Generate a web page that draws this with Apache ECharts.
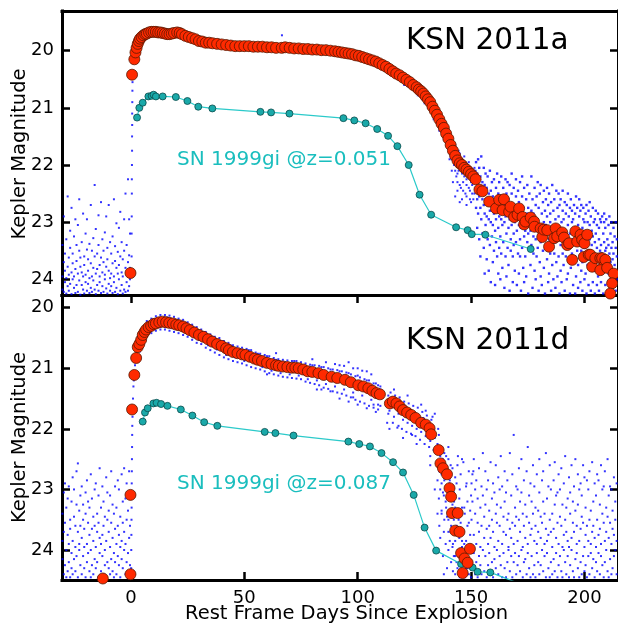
<!DOCTYPE html>
<html><head><meta charset="utf-8">
<script src="https://cdn.jsdelivr.net/npm/echarts@6/dist/echarts.min.js"></script>
<style>html,body{margin:0;padding:0;background:#fff}#c{width:618px;height:624px}</style>
</head><body><div id="c"></div>
<script>
// ---------- tick labels ----------
const xTicks = [0, 50, 100, 150, 200];
const yTicks = [20, 21, 22, 23, 24];

// ---------- KSN 2011a (top) binned light curve, red ----------
const ksn2011aRed = [[-0.2,23.89],[0.5,20.42],[1.5,20.15],[2,20.03],[2.5,19.95],[3,19.88],[3.5,19.83],[4,19.79],[4.7,19.76],[5.5,19.73],[6.3,19.71],[7,19.7],[8,19.68],[9,19.67],[10,19.67],[11,19.67],[12,19.68],[13,19.68],[14,19.69],[15,19.7],[16,19.71],[17,19.71],[18,19.7],[19,19.69],[20.4,19.68],[21.5,19.69],[22.5,19.71],[24,19.74],[25.5,19.76],[27,19.78],[28.5,19.8],[30,19.83],[31.5,19.84],[33,19.86],[34.5,19.86],[36,19.87],[38,19.88],[40,19.89],[42,19.9],[44,19.91],[46,19.92],[48,19.92],[50,19.92],[52,19.92],[54,19.93],[56,19.93],[58,19.93],[60,19.94],[62,19.94],[64,19.95],[66.5,19.95],[68,19.94],[70,19.95],[72,19.96],[74,19.96],[76,19.97],[78,19.97],[80,19.98],[82,19.98],[84,19.99],[86,19.99],[88,20.0],[90,20.01],[91.5,20.02],[93,20.03],[94.5,20.04],[96,20.05],[97.5,20.06],[99,20.08],[100.5,20.09],[102,20.11],[103.5,20.13],[105,20.15],[106.5,20.17],[108,20.19],[109.5,20.22],[111,20.25],[112.5,20.28],[114,20.32],[115.5,20.36],[117,20.4],[118.5,20.43],[120,20.47],[121.5,20.51],[123,20.55],[124.5,20.6],[126,20.64],[127,20.68],[128,20.71],[129,20.75],[130,20.8],[131,20.85],[132,20.9],[133,20.98],[134,21.05],[135,21.12],[136,21.2],[137,21.28],[138,21.35],[139,21.45],[140,21.54],[141,21.65],[142,21.75],[143,21.84],[144,21.92],[145,21.97],[146,22.0],[147,22.05],[148,22.08],[149,22.12],[150,22.16],[151,22.2],[152,22.25],[153.7,22.43],[155,22.46],[158,22.64],[161,22.76],[162.4,22.61],[163.9,22.79],[164.5,22.6],[166.8,22.82],[167.4,22.73],[169,22.91],[170.5,22.87],[171.2,22.76],[172.7,22.91],[173.4,23.04],[174,22.99],[176.3,22.92],[177.8,22.99],[178,23.08],[180.7,23.11],[181.4,23.26],[182,23.13],[183.6,23.14],[184.4,23.43],[186.6,23.28],[187.3,23.11],[188,23.25],[190.2,23.18],[191,23.27],[192.4,23.4],[193.2,23.37],[194.6,23.66],[196,23.16],[196.8,23.34],[198.3,23.22],[199,23.31],[199.7,23.61],[200,23.37],[201.2,23.22],[201.9,23.57],[202.6,23.57],[203.4,23.78],[204.8,23.63],[207,23.63],[207.8,23.63],[208.5,23.78],[209.2,23.66],[207,23.84],[210,23.8],[212.9,23.9],[212.2,24.07],[211.4,24.25]];

// ---------- SN 1999gi template at z=0.051 (top) ----------
const sn1999giTop = [[2.7,21.17],[3.7,21.0],[5.2,20.91],[7.7,20.8],[9.1,20.79],[10,20.77],[11,20.8],[14,20.8],[19.8,20.81],[24.9,20.88],[29.7,20.98],[35.9,21.01],[57.1,21.07],[61.8,21.08],[69.9,21.1],[93.7,21.18],[98.5,21.22],[103.5,21.27],[108.6,21.37],[113.4,21.49],[117.5,21.67],[122.5,22.0],[127.3,22.52],[132.4,22.87],[143.4,23.09],[148.5,23.14],[150.3,23.21],[156.3,23.22],[176.3,23.47]];

// ---------- KSN 2011a raw photometry, blue ([day, [mags]] columns and [day, mag] pairs) ----------
const topBluePre = [[-30.2,[23.95,24.18,23.4]],[-29.6,[24.22,23.7,22.9]],[-29.1,[23.85,24.05,23.55]],[-28.5,[24.25,23.3,23.98]],[-27.9,[22.55,23.78,24.12]],[-27.4,[23.62,24.2,23.92]],[-26.8,[24.08,23.45,23.15]],[-26.2,[23.88,24.26,22.75]],[-25.7,[23.55,24.0,23.72]],[-25.1,[24.15,23.25,23.95]],[-24.5,[22.95,23.82,24.24]],[-24.0,[23.68,24.1,23.4]],[-23.4,[24.22,23.9,23.05]],[-22.8,[23.5,24.02,22.6]],[-22.3,[23.78,24.27,23.62]],[-21.7,[24.1,23.35,23.88]],[-21.1,[22.85,23.95,24.18]],[-20.6,[23.6,24.25,23.75]],[-20.0,[24.05,23.2,23.92]],[-19.4,[23.48,24.2,22.95]],[-18.9,[23.85,24.08,23.65]],[-18.3,[24.24,23.38,23.98]],[-17.7,[22.7,23.72,24.15]],[-17.2,[23.95,24.22,23.5]],[-16.6,[23.28,24.02,23.8]],[-16.0,[24.18,22.35,23.6]],[-15.5,[23.9,24.26,23.12]],[-14.9,[23.55,24.1,23.82]],[-14.3,[24.2,23.4,22.88]],[-13.8,[23.75,24.05,23.95]],[-13.2,[22.65,23.62,24.24]],[-12.6,[24.12,23.88,23.3]],[-12.1,[23.5,24.22,23.7]],[-11.5,[24.0,23.18,23.92]],[-10.9,[22.9,23.78,24.16]],[-10.4,[23.65,24.25,23.45]],[-9.8,[24.08,23.85,22.7]],[-9.2,[23.35,24.2,23.98]],[-8.7,[23.9,24.12,23.55]],[-8.1,[24.24,23.25,23.72]],[-7.5,[22.6,23.95,24.05]],[-7.0,[23.68,24.22,23.42]],[-6.4,[24.15,23.8,23.02]],[-5.8,[23.52,24.26,23.9]],[-5.3,[23.1,24.0,23.75]],[-4.7,[24.2,22.82,23.6]],[-4.1,[23.88,24.1,23.35]],[-3.6,[24.25,23.65,23.95]],[-3.0,[22.95,23.5,24.18]],[-2.4,[23.8,24.22,22.5]],[-1.9,[24.05,23.4,23.92]],[-1.3,[22.25,23.7,24.2]],[-0.8,[23.58,24.12,22.95]],[-0.4,[23.2,24.0,23.8]]];
const topBlueRise = [[0.2,23.9],[0.3,23.6],[0.3,23.2],[0.35,22.9],[0.4,22.5],[0.4,22.25],[0.45,22.0],[0.5,21.75],[0.5,21.5],[0.55,21.3],[0.55,21.1],[0.6,20.9],[0.65,20.7],[0.7,20.55]];
const topBlueBand = [[25,19.72],[30,19.8],[38,19.86],[45,19.88],[52,19.96],[56,19.97],[60,19.9],[66.6,19.73],[64,19.98],[68,19.92],[75,19.93],[80,20.0],[85,19.95],[88,20.03],[92,19.99],[95,20.08],[98,20.03],[101,20.14],[104,20.1],[107,20.23],[110,20.18],[112,20.3],[115,20.28],[117,20.45],[119,20.38],[121,20.55],[123,20.48],[125,20.7],[127,20.58],[128.5,20.85],[130,20.7],[131,21.0],[132.5,20.85],[133.5,21.2],[135,21.0],[136,21.4],[137,21.15],[138,21.55],[139,21.3],[140,21.7],[140.5,21.45],[141.5,21.9],[142,21.6],[143,22.1],[143.5,21.7],[144,22.3],[145,21.8],[145.5,22.4],[146,22.15],[147,21.85],[147.5,22.5],[148,22.25],[149,21.95],[149.5,22.45],[150,22.3],[151,22.6],[151.5,22.05],[152,22.4],[143,22.55],[145,22.65],[148,22.7],[144.5,22.1],[146.5,22.3],[149,22.2],[150.5,22.5],[141,21.8],[139.5,21.6],[120.5,20.6],[122,20.62],[124,20.52],[126.5,20.78],[128,20.62],[129.5,20.92],[131.5,20.78],[133,21.1],[134.5,20.95],[135.5,21.3],[136.5,21.1],[137.5,21.45],[138.5,21.25],[139.5,21.65],[140,21.4],[141,21.85],[141.5,21.55],[142.5,22.0],[143,21.65],[144,22.15],[144.5,21.75],[145,22.35],[146,21.9],[146.5,22.45],[147,22.2],[148,22.55],[148.5,22.0],[149.5,22.6],[150,22.05],[150.5,22.35],[151.5,22.5],[152,22.1],[142,22.3],[144,22.45],[146,22.6],[148,22.35],[150,22.65],[145.5,22.0],[147.5,21.95],[149,22.4],[151,22.25],[143.5,22.2],[141.5,22.1],[140.5,21.9]];
const topBluePost = [[152.2,[21.95,22.4,22.75]],[152.7,[22.6,22.15,23.1]],[153.1,[22.3,22.85,21.9]],[153.6,[22.55,22.05,23.3]],[154.1,[22.2,22.75,23.6]],[154.5,[22.95,22.45,21.85]],[155.0,[22.3,23.2,22.6]],[155.6,[22.05,22.7,23.45]],[156.0,[22.85,22.35,23.9]],[156.4,[22.6,23.05,22.15]],[156.9,[22.4,22.9,23.65]],[157.3,[23.3,22.2,22.7]],[157.8,[22.5,22.95,23.85]],[158.3,[22.1,22.8,23.4]],[158.7,[23.0,22.45,24.05]],[159.2,[22.7,23.25,22.3]],[159.6,[22.55,23.05,23.7]],[160.1,[22.25,22.85,23.5]],[160.6,[23.15,22.6,24.1]],[161.0,[22.4,22.95,23.35]],[161.5,[22.75,23.6,22.15]],[162.0,[22.5,23.1,23.9]],[162.4,[22.9,22.3,23.45]],[162.9,[22.65,23.25,24.0]],[163.3,[22.2,22.95,23.55]],[163.8,[23.05,22.55,23.8]],[164.2,[22.4,23.35,22.85]],[164.7,[22.7,23.0,24.15]],[165.2,[22.25,22.9,23.6]],[165.6,[23.2,22.5,23.95]],[166.1,[22.75,23.45,22.3]],[166.5,[22.6,23.1,23.75]],[167.0,[22.35,22.95,24.2]],[167.5,[23.3,22.7,23.5]],[167.9,[22.5,23.05,22.15]],[168.4,[22.85,23.6,24.05]],[168.8,[22.4,23.2,23.4]],[169.3,[22.7,23.0,23.85]],[169.8,[23.35,22.55,22.25]],[170.2,[22.95,23.15,24.1]],[170.7,[22.45,23.55,22.8]],[171.1,[23.05,22.65,23.9]],[171.6,[22.3,23.3,23.6]],[172.0,[22.8,23.1,24.2]],[172.5,[22.55,23.45,22.2]],[173.0,[23.0,22.75,23.8]],[173.4,[22.4,23.25,24.05]],[173.9,[22.9,23.6,23.15]],[174.3,[22.6,23.05,23.95]],[174.8,[23.35,22.35,22.85]],[175.2,[22.75,23.2,24.25]],[175.7,[22.5,23.5,23.0]],[176.2,[22.95,23.15,23.75]],[176.6,[22.2,22.8,23.4]],[177.1,[23.1,22.6,24.15]],[177.5,[22.85,23.55,23.25]],[178.0,[22.4,23.0,23.85]],[178.5,[23.3,22.7,24.0]],[178.9,[22.55,23.15,23.6]],[179.4,[22.95,23.45,22.3]],[179.8,[22.75,23.25,24.2]],[180.3,[23.05,22.5,23.7]],[180.7,[22.35,23.35,23.95]],[181.2,[22.85,23.1,24.1]],[181.7,[23.5,22.65,23.2]],[182.1,[22.45,23.0,23.8]],[182.6,[23.25,22.8,24.25]],[183.0,[22.6,23.4,23.05]],[183.5,[22.9,23.65,22.4]],[184.0,[23.15,22.7,24.05]],[184.4,[22.5,23.3,23.9]],[184.9,[23.0,22.85,23.55]],[185.3,[22.65,23.45,24.2]],[185.8,[23.2,22.35,23.75]],[186.3,[22.8,23.1,24.0]],[186.7,[23.55,22.6,23.3]],[187.2,[22.95,23.35,24.15]],[187.6,[22.45,23.05,23.7]],[188.1,[23.25,22.75,23.95]],[188.6,[22.9,23.6,22.5]],[189.0,[23.1,22.7,24.25]],[189.5,[22.6,23.4,23.85]],[189.9,[23.0,23.2,24.05]],[190.4,[22.8,23.55,22.45]],[190.8,[23.3,22.95,23.75]],[191.3,[22.65,23.15,24.2]],[191.8,[23.45,22.85,23.6]],[192.2,[22.7,23.25,24.0]],[192.7,[23.05,22.5,23.9]],[193.1,[22.9,23.65,23.35]],[193.6,[23.2,22.75,24.25]],[194.0,[22.6,23.4,23.8]],[194.5,[23.55,23.0,22.8]],[195.0,[22.95,23.3,24.1]],[195.4,[23.15,22.7,23.7]],[195.9,[22.85,23.6,24.25]],[196.3,[23.4,22.55,23.95]],[196.8,[22.75,23.2,23.5]],[197.2,[23.05,23.75,24.15]],[197.7,[22.9,23.35,22.6]],[198.2,[23.25,22.8,24.05]],[198.6,[22.7,23.5,23.85]],[199.1,[23.1,23.7,24.2]],[199.5,[22.95,23.3,22.75]],[200.0,[23.45,23.0,24.0]],[200.5,[22.85,23.6,23.9]],[200.9,[23.2,22.7,24.25]],[201.4,[23.0,23.4,23.75]],[201.8,[22.8,23.65,24.1]],[202.3,[23.3,23.05,22.65]],[202.8,[22.9,23.5,24.2]],[203.2,[23.15,23.8,23.4]],[203.7,[22.75,23.25,24.05]],[204.1,[23.55,23.0,23.85]],[204.6,[22.95,23.35,24.25]],[205.0,[23.2,23.7,22.8]],[205.5,[23.05,23.45,24.1]],[206.0,[22.85,23.6,23.95]],[206.4,[23.3,23.1,24.2]],[206.9,[22.95,23.75,23.5]],[207.3,[23.4,23.0,24.05]],[207.8,[22.9,23.55,23.85]],[208.3,[23.2,23.65,24.25]],[208.7,[23.0,23.35,22.85]],[209.2,[23.5,23.1,24.1]],[209.6,[22.95,23.8,23.45]],[210.1,[23.3,23.6,24.2]],[210.6,[23.05,23.4,23.9]],[211.0,[23.55,22.9,24.05]],[211.5,[23.2,23.7,24.25]],[211.9,[23.0,23.45,23.85]],[212.4,[23.35,23.65,24.15]],[212.8,[23.1,23.9,23.55]],[213.3,[23.25,23.75,24.1]],[213.8,[23.45,23.0,24.2]],[214.3,[23.6,23.3,24.0]]];

// ---------- KSN 2011d (bottom) binned light curve, red ----------
const ksn2011dRed = [[-12.4,24.47],[-0.2,24.4],[-0.2,23.09],[0.5,21.68],[1.5,21.11],[2.3,20.83],[3,20.65],[3.7,20.6],[4.5,20.53],[5.2,20.45],[6,20.4],[6.7,20.36],[7.8,20.32],[8.9,20.3],[10,20.27],[11,20.26],[12.5,20.24],[14,20.23],[15.5,20.24],[16.9,20.25],[18.5,20.26],[20,20.28],[21.3,20.29],[23,20.31],[24.5,20.34],[26,20.37],[28,20.41],[30,20.45],[32,20.48],[34,20.52],[35.9,20.56],[38,20.6],[40,20.63],[42,20.67],[43.2,20.7],[45,20.73],[47,20.75],[49,20.77],[50.5,20.78],[52.5,20.81],[54.5,20.84],[56,20.86],[57.8,20.88],[60,20.91],[62,20.93],[64,20.95],[65.2,20.96],[67,20.97],[69,20.98],[71,20.99],[72.5,20.99],[74,21.0],[76,21.02],[78,21.05],[80,21.06],[82.7,21.08],[85,21.11],[88.5,21.14],[91,21.16],[94.4,21.19],[97,21.23],[100.3,21.28],[102.5,21.3],[104.7,21.33],[106.5,21.37],[108.3,21.41],[109.8,21.43],[114.2,21.58],[115.5,21.55],[117.1,21.58],[118.5,21.63],[120,21.69],[121.8,21.73],[123.6,21.77],[125.5,21.82],[128,21.9],[130,21.93],[131.7,21.99],[132.4,22.09],[135.7,22.35],[136.5,22.57],[137.6,22.65],[139.4,22.75],[140.5,22.98],[141.2,23.12],[141.6,23.39],[144.1,23.39],[143,23.68],[144.9,23.7],[145.6,24.05],[149.5,23.98],[147.1,24.14],[148.5,24.21],[146.3,24.38]];

// ---------- SN 1999gi template at z=0.087 (bottom) ----------
const sn1999giBot = [[5.2,21.88],[6.2,21.73],[7.4,21.66],[9.9,21.58],[11.3,21.57],[13.3,21.59],[16.1,21.62],[22,21.68],[27.1,21.78],[32.3,21.89],[38.1,21.95],[59,22.05],[63.7,22.07],[71.7,22.11],[95.9,22.21],[100.7,22.25],[105.4,22.29],[110.5,22.4],[115.6,22.55],[120,22.72],[124.7,23.09],[129.5,23.63],[134.6,24.01],[145.6,24.23],[150.7,24.29],[152.9,24.36],[158.5,24.37],[176,24.62]];

// ---------- KSN 2011d raw photometry, blue ----------
const botBluePre = [[-30.2,[23.4,24.15,23.85]],[-29.6,[24.4,23.05,23.7]],[-29.1,[23.55,24.25,22.9]],[-28.5,[24.0,23.3,24.45]],[-27.9,[23.75,24.35,23.15]],[-27.4,[22.95,23.9,24.2]],[-26.8,[24.45,23.5,23.65]],[-26.2,[23.2,24.05,24.3]],[-25.7,[23.85,22.8,24.4]],[-25.1,[24.15,23.45,23.0]],[-24.5,[23.6,24.35,23.95]],[-24.0,[22.7,23.25,24.1]],[-23.4,[24.45,23.7,22.57]],[-22.8,[23.35,24.0,23.9]],[-22.3,[24.25,23.1,23.6]],[-21.7,[23.8,24.4,22.95]],[-21.1,[23.5,24.1,23.25]],[-20.6,[24.3,23.65,23.95]],[-20.0,[23.05,24.45,23.4]],[-19.4,[23.9,22.85,24.2]],[-18.9,[24.05,23.55,23.2]],[-18.3,[23.3,24.35,23.75]],[-17.7,[22.75,24.0,24.45]],[-17.2,[23.65,23.15,24.25]],[-16.6,[24.4,23.85,23.45]],[-16.0,[23.0,24.15,23.6]],[-15.5,[23.95,22.9,24.3]],[-14.9,[24.2,23.4,23.7]],[-14.3,[23.55,24.45,23.1]],[-13.8,[22.65,23.8,24.05]],[-13.2,[24.35,23.3,23.9]],[-12.6,[23.75,24.1,22.95]],[-12.1,[23.2,24.4,23.6]],[-11.5,[24.0,23.45,24.25]],[-10.9,[22.8,23.85,24.45]],[-10.4,[23.5,24.2,23.05]],[-9.8,[24.3,23.7,23.35]],[-9.2,[23.1,23.95,24.4]],[-8.7,[24.15,22.7,23.55]],[-8.1,[23.8,24.35,23.25]],[-7.5,[23.4,24.05,24.45]],[-7.0,[22.95,23.65,24.2]],[-6.4,[24.4,23.3,23.9]],[-5.8,[23.6,24.1,22.85]],[-5.3,[24.25,23.0,23.75]],[-4.7,[23.45,24.45,23.95]],[-4.1,[22.75,23.85,24.15]],[-3.6,[24.3,23.55,23.2]],[-3.0,[23.7,24.0,22.65]],[-2.4,[23.15,24.4,23.9]],[-1.9,[24.2,23.5,22.9]],[-1.3,[23.35,24.05,24.35]],[-0.8,[22.7,23.8,24.45]],[-0.4,[23.6,24.25,23.05]]];
const botBlueRise = [[0.1,24.3],[0.15,24.0],[0.2,23.75],[0.25,23.5],[0.3,23.3],[0.35,22.9],[0.4,22.7],[0.45,22.5],[0.5,22.3],[0.55,22.1],[0.6,21.95],[0.7,21.8],[0.9,21.5],[1.1,21.3],[1.3,21.2],[1.8,20.95],[2.6,20.75]];
const botBlueBand = [[5,20.38],[6,20.45],[8,20.25],[10,20.32],[12,20.17],[14,20.3],[16,20.16],[18,20.33],[20,20.2],[22,20.36],[24,20.26],[26,20.45],[28,20.33],[30,20.53],[32,20.4],[34,20.62],[36,20.48],[38,20.69],[40,20.56],[42,20.78],[44,20.62],[46,20.82],[48,20.68],[50,20.88],[52,20.7],[54,20.9],[56,20.76],[58,20.98],[60,20.8],[62,21.04],[64,20.86],[66,21.08],[68,20.9],[70,21.1],[72,20.88],[74,21.12],[76,20.95],[78,21.18],[80,20.95],[82,21.2],[84,20.98],[86,21.26],[88,21.02],[90,21.3],[92,21.05],[94,21.35],[96,21.08],[98,21.4],[100,21.12],[102,21.45],[104,21.2],[106,21.52],[108,21.25],[109,21.6],[110,21.35],[64,20.75],[80,20.85],[92,20.95],[96,20.9],[100,21.0],[104,21.05],[60,21.1],[84,21.35],[88,21.38],[107,21.6],[98,21.48],
  [3,20.5],[4,20.72],[7,20.22],[7,20.45],[9,20.18],[9,20.42],[11,20.14],[11,20.38],[13,20.12],[13,20.36],[15,20.12],[15,20.36],[17,20.13],[17,20.38],[19,20.15],[19,20.4],[21,20.18],[21,20.42],[23,20.2],[23,20.45],[25,20.24],[25,20.48],[27,20.28],[27,20.53],[29,20.32],[29,20.58],[31,20.36],[31,20.6],[33,20.4],[33,20.66],[35,20.44],[35,20.7],[37,20.48],[37,20.74],[39,20.5],[39,20.78],[41,20.55],[41,20.82],[43,20.58],[43,20.85],[45,20.62],[45,20.88],[47,20.64],[47,20.9],[49,20.66],[49,20.92],[51,20.68],[51,20.95],[53,20.7],[53,20.98],[55,20.74],[55,21.0],[57,20.76],[57,21.02],[59,20.78],[59,21.05],[61,20.8],[61,21.08],[63,20.83],[63,21.1],[65,20.85],[65,21.12],[67,20.86],[67,21.14],[69,20.87],[69,21.15],[71,20.88],[71,21.16],[73,20.88],[73,21.17],[75,20.9],[75,21.18],[77,20.92],[77,21.22],[79,20.94],[79,21.24],[81,20.95],[81,21.26],[83,20.96],[83,21.28],[85,20.98],[85,21.32],[87,21.0],[87,21.34],[89,21.02],[89,21.38],[91,21.03],[91,21.4],[93,21.05],[93,21.42],[95,21.07],[95,21.45],[97,21.1],[97,21.48],[99,21.13],[99,21.52],[101,21.15],[101,21.55],[103,21.18],[103,21.58],[105,21.2],[105,21.62],[107,21.25],[107,21.65],[109,21.28],[109,21.68],[110,21.3],[110,21.62],[86,20.9],[90,20.93],[94,20.96],[98,21.0],[102,21.04],[106,21.1],[82,21.35],[92,21.5],[96,21.55],[100,21.6],[104,21.66],[108,21.72],
  [113.5,21.45],[114,21.7],[115,21.5],[116,21.8],[117,21.52],[118,21.75],[119,21.6],[120,21.85],[121,21.62],[122,21.9],[123,21.68],[124,21.95],[125,21.72],[126,22.0],[127,21.78],[128,22.05],[129,21.82],[130,22.12],[131,21.88],[132,22.2],[133,21.8],[134,22.15],[113,21.9],[118,21.95],[124,22.1],[130,21.7],[134,21.75],[113.5,21.75],[114.5,21.4],[115.5,21.9],[116.5,21.45],[117.5,21.98],[118.5,21.48],[119.5,22.0],[120.5,21.55],[121.5,22.05],[122.5,21.58],[123.5,22.08],[124.5,21.62],[125.5,22.12],[126.5,21.65],[127.5,22.18],[128.5,21.72],[129.5,22.25],[130.5,21.78],[131.5,22.3],[132.5,21.85],[133.5,22.35],[114,22.0],[120,22.15],[126,22.25],[132,22.45],[116,21.35],[122,21.45],[128,21.6],
  [135,22.4],[135.5,22.0],[136,22.7],[136.5,22.3],[137,22.9],[137.5,22.5],[138,23.1],[138.5,22.6],[139,23.3],[139.5,22.8],[140,23.5],[140.5,22.9],[141,23.7],[141.5,23.05],[142,23.9],[142.5,23.2],[143,24.1],[143.5,23.4],[144,24.3],[144.5,23.5],[145,24.45],[145.5,23.7],[146,23.85],[146.5,24.2],[147,23.9],[147.5,24.4],[148,24.0],[148.5,24.3],[149,24.15],[150,24.45],[137,23.4],[139,22.45],[141,22.6],[143,22.8],[145,23.0],[147,23.3],[149,23.55],[138,23.7],[140,24.0],[142,24.35],[136,23.6],[138,24.4],[140,22.3],[144,22.6],[146,22.5],[148,22.9],[150,23.1],[151,22.7],[134,23.0],[132,22.6]];
const botBluePost = [[135.2,[22.25,22.85,23.4]],[135.8,[22.6,23.15,22.1]],[136.4,[22.45,23.0,23.8]],[137.0,[22.75,23.35,22.3]],[137.6,[23.05,22.55,24.1]],[138.2,[22.85,23.5,22.4]],[138.8,[23.2,22.7,23.9]],[139.4,[23.45,22.95,24.3]],[140.0,[23.1,23.7,22.5]],[140.6,[23.35,23.85,22.85]],[141.2,[23.6,23.0,24.2]],[141.8,[23.25,23.95,22.65]],[142.4,[23.5,24.1,23.05]],[143.0,[23.85,23.3,24.4]],[143.6,[23.6,24.2,22.9]],[144.2,[24.0,23.45,22.45]],[144.8,[23.8,24.35,23.15]],[145.4,[24.1,23.55,22.75]],[146.0,[23.95,24.45,23.3]],[146.6,[24.2,23.7,22.55]],[147.2,[24.0,23.4,24.45]],[147.8,[23.85,24.3,22.95]],[148.4,[24.15,23.6,23.2]],[149.0,[23.95,24.4,22.7]],[149.6,[24.25,23.35,23.75]],[150.2,[24.05,22.9,23.5]],
  [150.6,[23.2,24.3,22.75]],[151.2,[23.75,22.5,24.05]],[151.8,[24.4,23.4,23.0]],[152.3,[22.85,23.9,24.2]],[152.9,[23.55,24.45,23.15]],[153.5,[24.1,22.65,23.7]],[154.1,[23.3,24.25,23.95]],[154.6,[22.95,23.6,24.4]],[155.2,[24.0,23.1,22.4]],[155.8,[23.45,24.35,23.8]],[156.3,[22.7,23.25,24.1]],[156.9,[24.45,23.65,23.0]],[157.5,[23.9,22.85,24.25]],[158.0,[23.35,24.05,23.6]],[158.6,[22.55,23.8,24.4]],[159.2,[24.2,23.15,23.5]],[159.7,[23.7,24.45,22.9]],[160.3,[23.05,23.95,24.15]],[160.9,[24.3,23.4,22.6]],[161.4,[23.55,24.0,23.25]],[162.0,[22.8,24.4,23.85]],[162.6,[24.1,23.6,23.0]],[163.1,[23.3,24.25,22.45]],[163.7,[23.9,22.95,24.45]],[164.3,[24.05,23.45,23.7]],[164.8,[22.7,23.2,24.3]],[165.4,[23.75,24.45,23.05]],[166.0,[24.2,22.85,23.5]],[166.5,[23.4,24.0,23.95]],[167.1,[22.4,23.65,24.35]],[167.7,[24.1,23.1,23.8]],[168.2,[23.55,24.45,22.75]],[168.8,[22.1,23.9,24.2]],[169.4,[23.3,24.05,23.6]],[169.9,[24.4,22.95,23.45]],[170.5,[23.85,24.25,23.0]],[171.1,[22.65,23.5,24.1]],[171.6,[24.35,23.7,23.2]],[172.2,[23.05,24.0,22.5]],[172.8,[23.95,24.45,23.4]],[173.3,[22.85,23.6,24.2]],[173.9,[24.15,23.25,23.8]],[174.5,[23.45,24.4,22.7]],[175.0,[22.3,23.9,24.05]],[175.6,[24.3,23.55,23.1]],[176.2,[23.75,22.9,24.45]],[176.7,[23.2,24.1,23.65]],[177.3,[24.4,23.4,22.6]],[177.9,[22.95,23.85,24.25]],[178.4,[23.6,24.45,23.3]],[179.0,[24.05,22.75,23.9]],[179.6,[23.35,24.2,23.7]],[180.1,[22.5,23.05,24.4]],[180.7,[24.25,23.8,23.45]],[181.3,[23.55,24.0,22.85]],[181.8,[22.7,24.35,23.2]],[182.4,[23.9,23.4,24.1]],[183.0,[24.45,22.4,23.65]],[183.5,[23.15,24.05,23.85]],[184.1,[23.75,24.3,22.95]],[184.7,[22.6,23.5,24.45]],[185.2,[24.2,23.0,23.7]],[185.8,[23.4,24.4,23.95]],[186.4,[22.85,23.65,24.15]],[186.9,[24.35,23.25,22.55]],[187.5,[23.8,24.05,23.1]],[188.1,[23.05,24.45,23.55]],[188.6,[22.75,23.9,24.25]],[189.2,[24.1,23.45,23.0]],[189.8,[23.6,24.35,22.65]],[190.3,[23.25,23.95,24.45]],[190.9,[24.0,22.9,23.75]],[191.5,[22.45,23.5,24.2]],[192.0,[24.4,23.7,23.3]],[192.6,[23.15,24.1,23.85]],[193.2,[23.95,22.8,24.45]],[193.7,[23.4,24.25,23.05]],[194.3,[22.6,23.8,24.0]],[194.9,[24.35,23.55,23.2]],[195.4,[23.7,24.45,22.95]],[196.0,[22.5,23.35,24.15]],[196.6,[24.05,23.9,23.6]],[197.1,[23.25,24.3,22.75]],[197.7,[23.85,23.0,24.45]],[198.3,[22.9,23.65,24.2]],[198.8,[24.4,23.45,23.1]],[199.4,[23.55,24.1,22.6]],[200.0,[22.8,23.95,24.35]],[200.5,[24.25,23.3,23.75]],[201.1,[23.6,24.45,22.85]],[201.7,[23.0,23.85,24.1]],[202.2,[24.4,22.7,23.5]],[202.8,[23.35,24.05,23.9]],[203.4,[22.55,23.7,24.3]],[203.9,[24.15,23.2,23.6]],[204.5,[23.8,24.45,22.9]],[205.1,[23.1,23.95,24.2]],[205.6,[24.35,23.5,22.75]],[206.2,[22.85,23.75,24.05]],[206.8,[23.65,24.4,23.25]],[207.3,[24.1,22.6,23.9]],[207.9,[23.4,24.25,23.0]],[208.5,[22.95,23.55,24.45]],[209.0,[24.2,23.85,22.7]],[209.6,[23.7,24.0,23.3]],[210.2,[22.5,23.45,24.35]],[210.7,[24.45,23.1,23.8]],[211.3,[23.55,24.15,22.95]],[211.9,[23.0,23.9,24.4]],[212.4,[24.3,23.35,23.65]],[213.0,[22.8,23.75,24.1]],[213.6,[24.0,23.2,23.5]],[214.2,[23.85,24.4,22.9]]];

// ---------- build ----------
function flatCols(c) { const o = []; c.forEach(([d, ms]) => ms.forEach(m => o.push([d, m]))); return o; }
const topBlue = flatCols(topBluePre).concat(topBlueRise, topBlueBand);
const topBlueCloud = flatCols(topBluePost);
const botBlue = flatCols(botBluePre).concat(botBlueRise, botBlueBand, flatCols(botBluePost));

const FONT = 'DejaVu Sans';
const spine = { show: true, onZero: false, lineStyle: { color: '#000', width: 3, cap: 'square' } };
const tickOn = (vals) => ({ show: true, inside: true, length: 8, customValues: vals, lineStyle: { width: 2.5, color: '#000' } });
const tickOff = { show: false };
const xBase = { type: 'value', min: -30.4, max: 214.8, splitLine: { show: false }, axisLine: spine };
const yTop = { type: 'value', inverse: true, min: 19.305, max: 24.275, gridIndex: 0, splitLine: { show: false }, axisLine: spine };
const yBot = { type: 'value', inverse: true, min: 19.79, max: 24.495, gridIndex: 1, splitLine: { show: false }, axisLine: spine };
const yLabel = { customValues: yTicks, fontSize: 18, fontFamily: FONT, color: '#000', margin: 8 };
const noLabel = { show: false };

function blue(data, xi, yi, size) {
  return { type: 'scatter', xAxisIndex: xi, yAxisIndex: yi, data, symbol: 'rect', symbolSize: size, progressive: 0,
    itemStyle: { color: '#0000ff' }, silent: true, z: 2 };
}
function teal(data, xi, yi) {
  return { type: 'line', xAxisIndex: xi, yAxisIndex: yi, data, symbol: 'circle', symbolSize: 7, showSymbol: true,
    lineStyle: { color: '#2ccaca', width: 1.2 }, itemStyle: { color: '#1aa9a9', borderColor: '#0a4a4a', borderWidth: 0.8 },
    silent: true, z: 3 };
}
function red(data, xi, yi) {
  return { type: 'scatter', xAxisIndex: xi, yAxisIndex: yi, data, symbol: 'circle', symbolSize: 11, progressive: 0,
    itemStyle: { color: '#ff2a00', borderColor: '#5a1800', borderWidth: 0.8, opacity: 1 }, silent: true, z: 4 };
}

const chart = echarts.init(document.getElementById('c'), null, { renderer: 'canvas' });
chart.setOption({
  animation: false,
  backgroundColor: '#fff',
  grid: [
    { left: 62, top: 11, width: 559, height: 284, show: false },
    { left: 62, top: 295, width: 559, height: 285, show: false }
  ],
  xAxis: [
    Object.assign({}, xBase, { gridIndex: 0, position: 'bottom', axisTick: tickOff, axisLabel: noLabel }),
    Object.assign({}, xBase, { gridIndex: 0, position: 'top', axisTick: tickOff, axisLabel: noLabel }),
    Object.assign({}, xBase, { gridIndex: 1, position: 'bottom', axisTick: tickOn(xTicks),
      axisLabel: { customValues: xTicks, fontSize: 18, fontFamily: FONT, color: '#000', margin: 9 } }),
    Object.assign({}, xBase, { gridIndex: 1, position: 'top', axisTick: tickOn(xTicks), axisLabel: { show: false, customValues: xTicks } })
  ],
  yAxis: [
    Object.assign({}, yTop, { position: 'left', axisTick: tickOn(yTicks), axisLabel: yLabel }),
    Object.assign({}, yTop, { position: 'right', axisTick: tickOn(yTicks), axisLabel: { show: false, customValues: yTicks } }),
    Object.assign({}, yBot, { position: 'left', axisTick: tickOn(yTicks), axisLabel: yLabel }),
    Object.assign({}, yBot, { position: 'right', axisTick: tickOn(yTicks), axisLabel: { show: false, customValues: yTicks } })
  ],
  series: [
    blue(topBlue, 0, 0, 2), blue(topBlueCloud, 0, 0, 2.4), teal(sn1999giTop, 0, 0), red(ksn2011aRed, 0, 0),
    blue(botBlue, 2, 2, 2), teal(sn1999giBot, 2, 2), red(ksn2011dRed, 2, 2)
  ],
  graphic: [
    { type: 'text', x: 406, y: 41, z: 10, style: { text: 'KSN 2011a', font: '29.5px "DejaVu Sans"', fill: '#000', align: 'left', verticalAlign: 'middle' } },
    { type: 'text', x: 406, y: 341, z: 10, style: { text: 'KSN 2011d', font: '29.5px "DejaVu Sans"', fill: '#000', align: 'left', verticalAlign: 'middle' } },
    { type: 'text', x: 177, y: 160, z: 10, style: { text: 'SN 1999gi @z=0.051', font: '20px "DejaVu Sans"', fill: '#1abebe', align: 'left', verticalAlign: 'middle' } },
    { type: 'text', x: 177, y: 483.5, z: 10, style: { text: 'SN 1999gi @z=0.087', font: '20px "DejaVu Sans"', fill: '#1abebe', align: 'left', verticalAlign: 'middle' } },
    { type: 'text', x: 19.5, y: 154, rotation: Math.PI / 2, z: 10, style: { text: 'Kepler Magnitude', font: '19.5px "DejaVu Sans"', fill: '#000', align: 'center', verticalAlign: 'middle' } },
    { type: 'text', x: 19.5, y: 437.5, rotation: Math.PI / 2, z: 10, style: { text: 'Kepler Magnitude', font: '19.5px "DejaVu Sans"', fill: '#000', align: 'center', verticalAlign: 'middle' } },
    { type: 'text', x: 346.5, y: 614, z: 10, style: { text: 'Rest Frame Days Since Explosion', font: '19.5px "DejaVu Sans"', fill: '#000', align: 'center', verticalAlign: 'middle' } }
  ]
});
</script></body></html>
